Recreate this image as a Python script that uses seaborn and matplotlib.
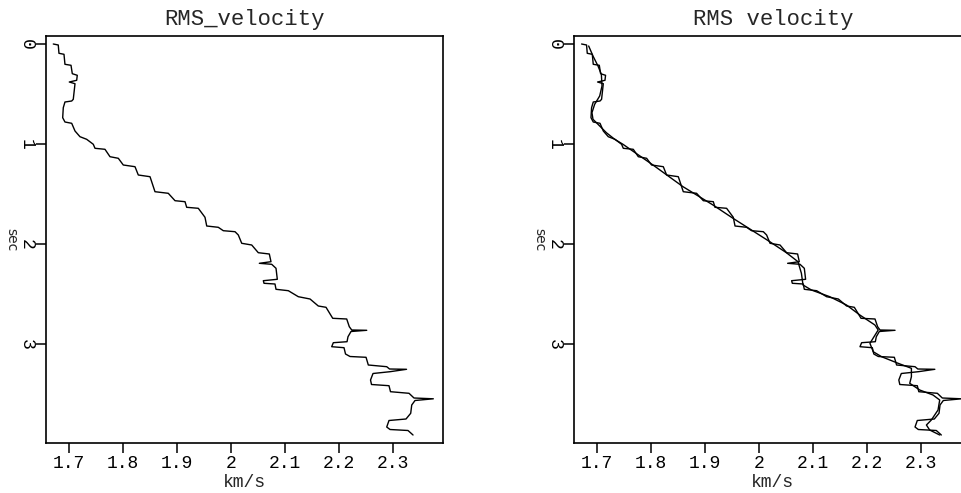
import numpy as np
import pandas as pd
import matplotlib
matplotlib.use("Agg")
import matplotlib.pyplot as plt
import seaborn as sns

# ---- data ----
time_rough = [0.00, 0.01, 0.093, 0.103, 0.203, 0.213, 0.297, 0.313, 0.363, 0.38,
              0.397, 0.553, 0.57, 0.58, 0.637, 0.737, 0.78, 0.793, 0.87, 0.927,
              0.953, 1.003, 1.043, 1.053, 1.127, 1.143, 1.21, 1.227, 1.31, 1.327,
              1.477, 1.493, 1.567, 1.577, 1.633, 1.643, 1.733, 1.82, 1.833, 1.867,
              1.877, 1.91, 1.993, 2.01, 2.087, 2.10, 2.177, 2.193, 2.203, 2.243,
              2.353, 2.367, 2.393, 2.40, 2.453, 2.467, 2.527, 2.55, 2.62, 2.633,
              2.743, 2.75, 2.827, 2.86, 2.863, 2.875, 2.927, 2.977, 2.987, 3.027,
              3.037, 3.10, 3.125, 3.133, 3.21, 3.227, 3.25, 3.253, 3.277, 3.295,
              3.36, 3.405, 3.417, 3.477, 3.493, 3.54, 3.548, 3.565, 3.61, 3.693,
              3.75, 3.765, 3.83, 3.855, 3.865, 3.91]
vel_rough = [1.6715, 1.6807, 1.682, 1.6913, 1.6931, 1.7043, 1.7067, 1.7159, 1.7148, 1.7011,
             1.7117, 1.7085, 1.7056, 1.6931, 1.690, 1.6889, 1.6931, 1.7056, 1.7117, 1.7209,
             1.7333, 1.7456, 1.7487, 1.7672, 1.7765, 1.7919, 1.8011, 1.8228, 1.8289, 1.8506,
             1.8598, 1.8844, 1.8969, 1.9154, 1.9185, 1.940, 1.9524, 1.9556, 1.977, 1.9863,
             2.008, 2.0141, 2.0204, 2.0389, 2.0511, 2.0715, 2.0746, 2.053, 2.0759, 2.0839,
             2.0863, 2.0604, 2.0617, 2.082, 2.0839, 2.1067, 2.1252, 2.1469, 2.1622, 2.1765,
             2.1889, 2.2148, 2.2196, 2.2241, 2.2519, 2.2228, 2.2172, 2.2154, 2.190, 2.187,
             2.2098, 2.2126, 2.2209, 2.2506, 2.2548, 2.2889, 2.2941, 2.3256, 2.295, 2.2635,
             2.2589, 2.2607, 2.2931, 2.2959, 2.3302, 2.3394, 2.3752, 2.3413, 2.3352, 2.3333,
             2.3246, 2.2931, 2.2889, 2.295, 2.3283, 2.3376]

time_smooth = [0.02, 0.12, 0.22, 0.303, 0.42, 0.52, 0.603, 0.687, 0.753, 0.803,
               0.887, 0.953, 1.003, 1.21, 1.427, 1.61, 1.743, 1.86, 1.977, 2.087,
               2.177, 2.293, 2.41, 2.46, 2.527, 2.61, 2.71, 2.81, 2.86, 2.993,
               3.077, 3.127, 3.193, 3.243, 3.327, 3.393, 3.46, 3.51, 3.56, 3.66,
               3.76, 3.81, 3.86, 3.91]
vel_smooth = [1.6846, 1.6926, 1.7019, 1.7081, 1.7093, 1.705, 1.6957, 1.6907, 1.6926, 1.7019,
              1.7174, 1.7328, 1.7481, 1.8037, 1.8593, 1.9148, 1.9519, 1.986, 2.020, 2.0507,
              2.0722, 2.0785, 2.0815, 2.097, 2.131, 2.162, 2.1867, 2.2146, 2.2207, 2.2054,
              2.2115, 2.2269, 2.2576, 2.2822, 2.2822, 2.2791, 2.2976, 2.3222, 2.3346, 2.3315,
              2.3191, 2.310, 2.316, 2.3346]

x_ticks = [1.7, 1.8, 1.9, 2.0, 2.1, 2.2, 2.3]
x_ticklabels = ["1.7", "1.8", "1.9", "2", "2.1", "2.2", "2.3"]
y_ticks = [0, 1, 2, 3]
y_ticklabels = ["0", "1", "2", "3"]
titles = ["RMS_velocity", "RMS velocity"]

# ---- style ----
sns.set_theme(style="ticks")
plt.rcParams["font.family"] = ["Liberation Mono", "DejaVu Sans"]
plt.rcParams["axes.linewidth"] = 1.2
plt.rcParams["xtick.major.width"] = 1.1
plt.rcParams["ytick.major.width"] = 1.1

rough = pd.DataFrame({"t": time_rough, "v": vel_rough})
smooth = pd.DataFrame({"t": time_smooth, "v": vel_smooth})

fig = plt.figure(figsize=(9.61, 4.93), dpi=100)
W, H = 961.0, 493.0
ax_w = 397 / W
ax_h = 407 / H
bottom = (H - 443) / H
ax1 = fig.add_axes([46 / W, bottom, ax_w, ax_h])
ax2 = fig.add_axes([574.3 / W, bottom, ax_w, ax_h])

for i, ax in enumerate([ax1, ax2]):
    sns.lineplot(data=rough, x="v", y="t", sort=False, estimator=None,
                 color="black", lw=1.0, ax=ax)
    if i == 1:
        sns.lineplot(data=smooth, x="v", y="t", sort=False, estimator=None,
                     color="black", lw=1.0, ax=ax)
    ax.set_xlim(1.658, 2.3931)
    ax.set_ylim(3.99, -0.08)
    ax.set_xticks(x_ticks)
    ax.set_xticklabels(x_ticklabels, fontsize=13)
    ax.set_yticks(y_ticks)
    ax.set_yticklabels(y_ticklabels, fontsize=13, rotation=-90, va="center")
    ax.tick_params(axis="x", direction="out", length=7, pad=1.5, colors="black")
    ax.tick_params(axis="y", direction="out", length=7, pad=1, colors="black")
    for s in ax.spines.values():
        s.set_visible(True)
        s.set_color("black")
    ax.set_xlabel("km/s", fontsize=13)
    ax.xaxis.set_label_coords(0.5, -0.108)
    ax.xaxis.label.set_va("baseline")
    ax.set_ylabel("sec", fontsize=10, rotation=-90, family="DejaVu Sans",
                  ha="center", va="center")
    ax.yaxis.set_label_coords(-0.088, 0.5)
    ax.set_title(titles[i], fontsize=16, pad=8)
    ax.grid(False)

fig.savefig("out.png", dpi=100)
